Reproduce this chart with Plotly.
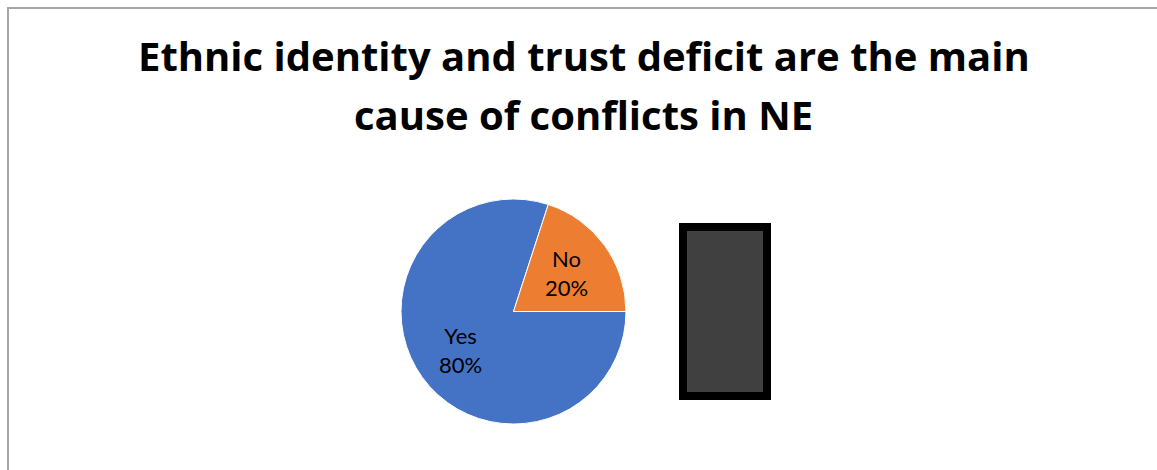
import math
import plotly.graph_objects as go

# Survey responses
labels = ["Yes", "No"]
values = [80, 20]
colors = ["#4472C4", "#ED7D31"]

title_lines = ["Ethnic identity and trust deficit are the main", "cause of conflicts in NE"]

W, H = 1157, 470
TITLE_FONT = "Open Sans, Lato, sans-serif"
LABEL_FONT = "Lato, Open Sans, sans-serif"

# pie geometry in pixels
cx, cy, R = 513.5, 311.5, 112.5
start_bearing = 90  # first slice starts at 3 o'clock, going clockwise

fig = go.Figure()
fig.add_trace(go.Pie(
    labels=labels,
    values=values,
    sort=False,
    direction="clockwise",
    rotation=start_bearing,
    marker=dict(colors=colors, line=dict(color="white", width=1)),
    textinfo="none",
    showlegend=False,
    hoverinfo="label+percent",
    domain=dict(x=[(cx - R) / W, (cx + R) / W], y=[1 - (cy + R) / H, 1 - (cy - R) / H]),
))

# data labels placed along each slice's mid angle
total = sum(values)
acc = 0.0
for lab, val in zip(labels, values):
    mid = start_bearing + (acc + val / 2) / total * 360
    acc += val
    rad = math.radians(mid)
    px = cx + 0.58 * R * math.sin(rad)
    py = cy - 0.58 * R * math.cos(rad)
    fig.add_annotation(
        text=f"{lab}<br>{val / total:.0%}",
        x=px / W, y=1 - py / H, xref="paper", yref="paper",
        xanchor="center", yanchor="middle", showarrow=False,
        font=dict(family=LABEL_FONT, size=22, color="#000000"), align="center",
    )

# two-line title, one annotation per line for control over line spacing
for line, ymid in zip(title_lines, [55, 115]):
    fig.add_annotation(
        text=f"<b>{line}</b>",
        x=583.5 / W, y=1 - ymid / H, xref="paper", yref="paper",
        xanchor="center", yanchor="middle", showarrow=False,
        font=dict(family=TITLE_FONT, size=40, color="#000000"),
    )

# chart border and the dark legend block
fig.add_shape(type="rect", xref="paper", yref="paper",
              x0=8 / W, x1=1.01, y0=-0.01, y1=1 - 8 / H,
              line=dict(color="#A6A6A6", width=2), fillcolor="rgba(0,0,0,0)", layer="below")
fig.add_shape(type="rect", xref="paper", yref="paper",
              x0=683 / W, x1=767 / W, y0=1 - 396 / H, y1=1 - 227 / H,
              line=dict(color="#000000", width=8), fillcolor="#404040")

fig.update_layout(
    width=W, height=H,
    margin=dict(l=0, r=0, t=0, b=0),
    paper_bgcolor="white",
    plot_bgcolor="white",
)

fig.write_html("out.html")
